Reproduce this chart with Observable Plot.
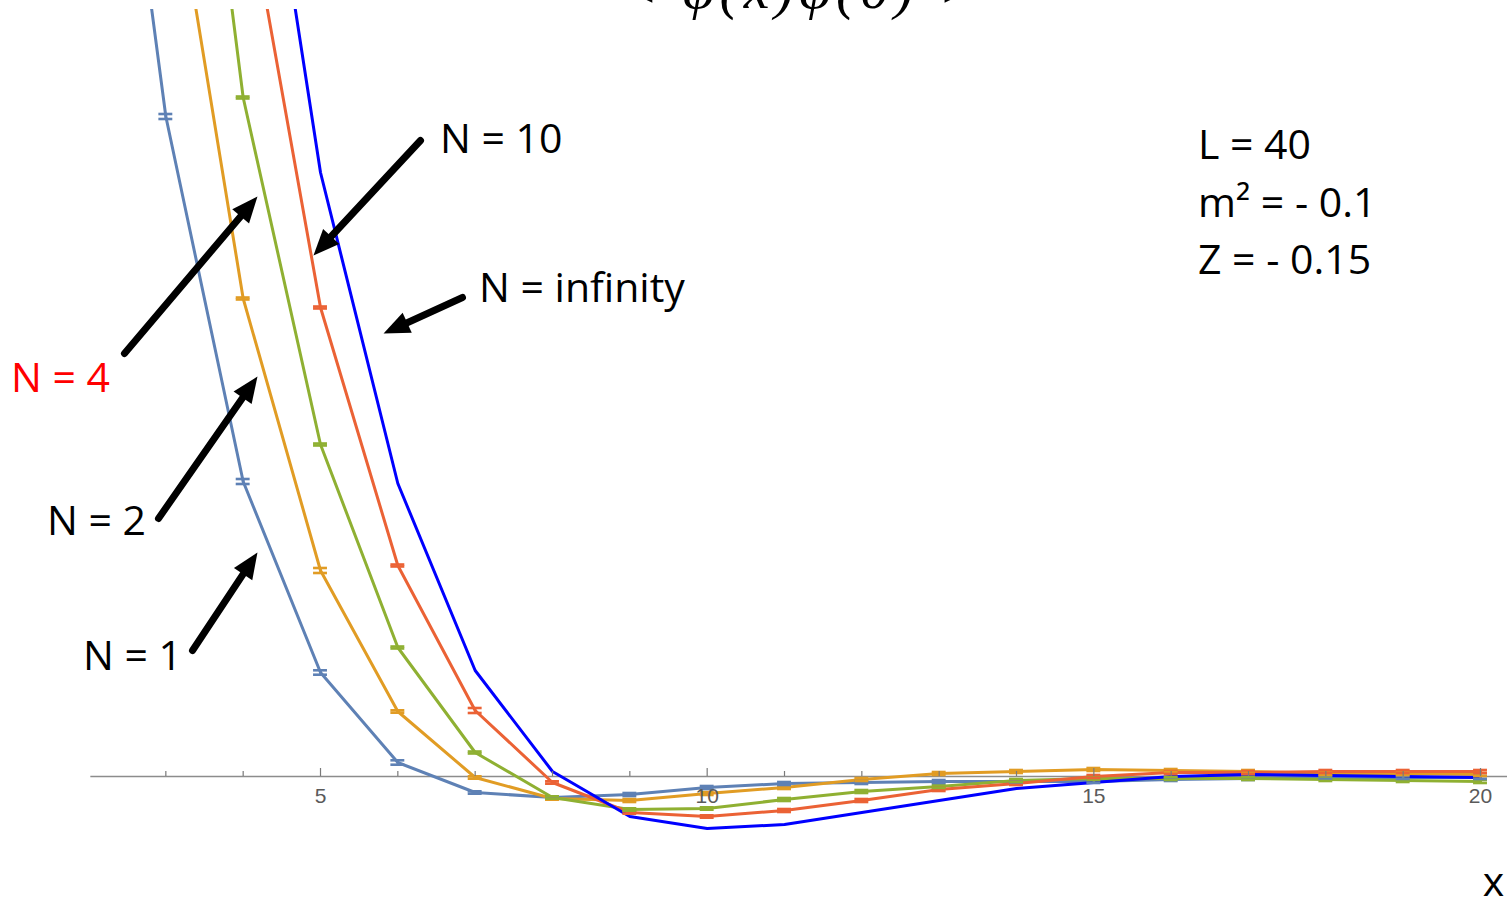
<!DOCTYPE html>
<html>
<head>
<meta charset="utf-8">
<script src="https://cdn.jsdelivr.net/npm/d3@7"></script>
<script src="https://cdn.jsdelivr.net/npm/@observablehq/plot@0.6"></script>
<style>
  html, body { margin: 0; padding: 0; background: #fff; overflow: hidden; }
  .corr-title text { letter-spacing: 5px; }
</style>
</head>
<body>
<div id="chart"></div>
<script>
// Two-point correlator <φ(x)φ(0)> versus separation x, for several N.
const seriesNames = ["N = 1", "N = 2", "N = 4", "N = 10", "N = infinity"];
const seriesColors = ["#5E81B5", "#E19C24", "#8FB032", "#EB6235", "#0000FF"];

const xN1 = [2, 3, 4, 5, 6, 7, 8, 9, 10, 11, 12, 13, 14, 15, 16, 17, 18, 19, 20];
const corrN1 = [1.246, 0.660, 0.295, 0.104, 0.014, -0.016, -0.021, -0.018, -0.011, -0.007, -0.006, -0.005, -0.005, -0.005, -0.003, -0.002, -0.001, -0.001, -0.001];
const errN1 = [0.003, 0.0025, 0.0025, 0.0022, 0.0022, 0.0012, 0.0012, 0.0015, 0.0015, 0.0015, 0.0015, 0.0015, 0.0015, 0.0015, 0.0015, 0.0015, 0.0015, 0.0015, 0.0015];

const xN2 = [3, 4, 5, 6, 7, 8, 9, 10, 11, 12, 13, 14, 15, 16, 17, 18, 19, 20];
const corrN2 = [0.952, 0.478, 0.206, 0.065, -0.001, -0.022, -0.024, -0.017, -0.011, -0.003, 0.003, 0.005, 0.007, 0.006, 0.005, 0.003, 0.003, 0.002];
const errN2 = [0.001, 0.001, 0.0025, 0.0012, 0.0012, 0.0012, 0.0015, 0.0015, 0.0015, 0.0015, 0.0015, 0.0015, 0.0015, 0.0015, 0.0015, 0.0015, 0.0015, 0.0015];

const xN4 = [3, 4, 5, 6, 7, 8, 9, 10, 11, 12, 13, 14, 15, 16, 17, 18, 19, 20];
const corrN4 = [1.291, 0.679, 0.332, 0.129, 0.024, -0.021, -0.033, -0.032, -0.023, -0.015, -0.010, -0.004, -0.002, -0.002, -0.002, -0.003, -0.004, -0.005];
const errN4 = [0.001, 0.001, 0.001, 0.001, 0.001, 0.0012, 0.0012, 0.0012, 0.0015, 0.0015, 0.0015, 0.0015, 0.0015, 0.0015, 0.0015, 0.0015, 0.0015, 0.0015];

const xN10 = [4, 5, 6, 7, 8, 9, 10, 11, 12, 13, 14, 15, 16, 17, 18, 19, 20];
const corrN10 = [0.903, 0.469, 0.211, 0.066, -0.006, -0.036, -0.040, -0.034, -0.024, -0.013, -0.007, 0.000, 0.004, 0.004, 0.005, 0.005, 0.005];
const errN10 = [0.001, 0.001, 0.001, 0.0025, 0.0012, 0.0012, 0.0012, 0.0015, 0.0015, 0.0015, 0.0015, 0.0015, 0.0015, 0.0015, 0.0015, 0.0015, 0.0015];

// Large-N limit: exact curve, no error bars
const xNinf = [4, 5, 6, 7, 8, 9, 10, 11, 12, 13, 14, 15, 16, 17, 18, 19, 20];
const corrNinf = [1.105, 0.604, 0.293, 0.106, 0.005, -0.040, -0.052, -0.048, -0.036, -0.024, -0.012, -0.006, 0.000, 0.002, 0.001, 0.000, -0.001];

const tickValues = [3, 4, 5, 6, 7, 8, 9, 10, 11, 12, 13, 14, 15, 16, 17, 18, 19, 20];
const tickLabels = [5, 10, 15, 20];

// Series annotations with pointer arrows (data coordinates)
const labelTexts = ["N = 10", "N = infinity", "N = 4", "N = 2", "N = 1"];
const labelColors = ["black", "black", "#FF0000", "black", "black"];
const labelX = [6.545, 7.049, 0.997, 1.463, 1.928];
const labelY = [0.637, 0.488, 0.398, 0.255, 0.120];
const arrowTailX = [6.293, 6.836, 2.465, 2.905, 3.345];
const arrowTailY = [0.636, 0.479, 0.423, 0.258, 0.126];
const arrowTipX = [4.909, 5.815, 4.185, 4.185, 4.185];
const arrowTipY = [0.521, 0.443, 0.580, 0.400, 0.224];

// Simulation parameters
const paramTexts = ["L = 40", "m² = - 0.1", "Z = - 0.15"];
const paramX = [16.346, 16.346, 16.346];
const paramY = [0.631, 0.573, 0.516];

const titleText = "< φ(x)φ(0) >";
const axisLabel = "x";

// ---- build tables ----
const rows = [];
const addSeries = (name, xs, ys, es) => xs.forEach((x, i) =>
  rows.push({series: name, x, y: ys[i], err: es ? es[i] : null}));
addSeries("N = 1", xN1, corrN1, errN1);
addSeries("N = 2", xN2, corrN2, errN2);
addSeries("N = 4", xN4, corrN4, errN4);
addSeries("N = 10", xN10, corrN10, errN10);
addSeries("N = infinity", xNinf, corrNinf, null);
const errRows = rows.filter(d => d.err != null);

const labels = labelTexts.map((t, i) => ({text: t, x: labelX[i], y: labelY[i], color: labelColors[i]}));
const arrows = labelTexts.map((t, i) => ({x1: arrowTailX[i], y1: arrowTailY[i], x2: arrowTipX[i], y2: arrowTipY[i]}));
const params = paramTexts.map((t, i) => ({text: t, x: paramX[i], y: paramY[i]}));

// ---- layout ----
const W = 1507, H = 899, mTop = 9;
const xDomain = [0.862, 20.349];
const yDomain = [-0.123, 0.767];
const xScale = Plot.scale({x: {domain: xDomain, range: [0, W]}});
const yScale = Plot.scale({y: {domain: yDomain, range: [H, mTop]}});

// orientation of each arrowhead, measured on screen
arrows.forEach(a => {
  const dx = xScale.apply(a.x2) - xScale.apply(a.x1);
  const dy = yScale.apply(a.y2) - yScale.apply(a.y1);
  a.angle = Math.atan2(dx, -dy) * 180 / Math.PI;
});

// filled arrowhead whose tip sits at the anchor point, pointing up
const arrowHead = {
  draw(ctx) {
    const len = 26, half = 11;
    ctx.moveTo(0, 0);
    ctx.lineTo(-half, len);
    ctx.lineTo(half, len);
    ctx.closePath();
  }
};

const capHalf = 0.09;      // half width of an error-bar cap, in x units
const majorTick = 0.008, minorTick = 0.005;
const textFont = "'Open Sans', 'Noto Sans', sans-serif";

const chart = Plot.plot({
  width: W,
  height: H,
  marginTop: mTop,
  marginBottom: 0,
  marginLeft: 0,
  marginRight: 0,
  style: {background: "white", overflow: "visible"},
  x: {domain: xDomain, axis: null},
  y: {domain: yDomain, axis: null},
  color: {domain: seriesNames, range: seriesColors},
  marks: [
    // axis line at zero
    Plot.ruleY([0], {x1: 2.03, x2: xDomain[1], stroke: "#8c8c8c", strokeWidth: 1.3}),
    // curves
    Plot.line(rows, {x: "x", y: "y", z: "series", stroke: "series", strokeWidth: 3, clip: true}),
    // error bars: vertical bar plus caps
    Plot.ruleX(errRows, {x: "x", y1: d => d.y - d.err, y2: d => d.y + d.err, stroke: "series", strokeWidth: 2.6, clip: true}),
    Plot.ruleY(errRows, {y: d => d.y + d.err, x1: d => d.x - capHalf, x2: d => d.x + capHalf, stroke: "series", strokeWidth: 2.6, clip: true}),
    Plot.ruleY(errRows, {y: d => d.y - d.err, x1: d => d.x - capHalf, x2: d => d.x + capHalf, stroke: "series", strokeWidth: 2.6, clip: true}),
    // ticks pointing up from the axis
    Plot.ruleX(tickValues, {x: d => d, y1: 0, y2: d => tickLabels.includes(d) ? majorTick : minorTick, stroke: "#7a7a7a", strokeWidth: 1.2}),
    Plot.text(tickLabels, {x: d => d, y: 0, dy: 20, text: d => String(d), fontSize: 21, fill: "#5a5a5a", fontFamily: "'Liberation Sans', Arial, sans-serif"}),
    // axis label
    Plot.text([axisLabel], {x: 20.168, y: -0.106, text: d => d, fontSize: 41, fill: "black", fontFamily: textFont}),
    // title, mostly above the visible area
    Plot.text([titleText], {frameAnchor: "top", lineAnchor: "middle", x: 11.207, dy: -20, text: d => d, fontSize: 58, fontStyle: "italic", fill: "black", fontFamily: "'Liberation Serif', 'DejaVu Serif', serif", className: "corr-title"}),
    // arrows
    Plot.arrow(arrows, {x1: "x1", y1: "y1", x2: "x2", y2: "y2", stroke: "black", strokeWidth: 7, headLength: 0, insetEnd: 14}),
    Plot.dot(arrows, {x: "x2", y: "y2", symbol: arrowHead, rotate: "angle", fill: "black", stroke: "none"}),
    // series labels
    Plot.text(labels, {x: "x", y: "y", text: "text", fill: d => d.color, textAnchor: "start", fontSize: 41, fontFamily: textFont}),
    // parameter block
    Plot.text(params, {x: "x", y: "y", text: "text", fill: "black", textAnchor: "start", fontSize: 41, fontFamily: textFont})
  ]
});

document.getElementById("chart").appendChild(chart);
</script>
</body>
</html>
